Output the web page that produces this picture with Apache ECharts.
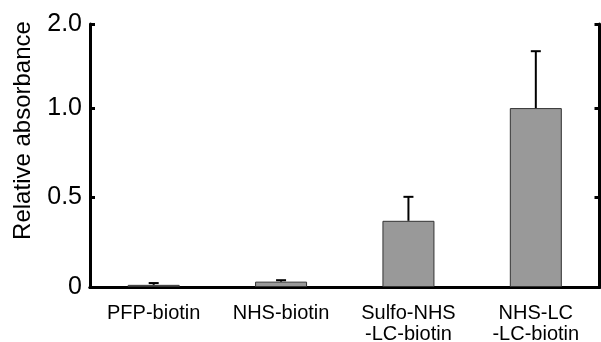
<!DOCTYPE html>
<html><head><meta charset="utf-8">
<script src="https://cdn.jsdelivr.net/npm/echarts@6/dist/echarts.min.js"></script>
<style>html,body{margin:0;padding:0;background:#fff}#c{width:601px;height:342px}</style>
</head><body><div id="c"></div>
<script>
const categories = ['PFP-biotin', 'NHS-biotin', 'Sulfo-NHS\n-LC-biotin', 'NHS-LC\n-LC-biotin'];
const values = [0.012, 0.03, 0.37, 1.0];
const errors = [0.01, 0.008, 0.134, 0.318];
const tickLabels = ['0', '0.5', '1.0', '2.0'];
const yTitle = 'Relative absorbance';

const FONT = '"Liberation Sans", Arial, sans-serif';
const fmt = v => tickLabels[Math.round(v / 0.5)] ?? '';
const chart = echarts.init(document.getElementById('c'), null, {renderer: 'canvas'});
const yCommon = {
  type: 'value', min: 0, max: 1.47, interval: 0.5,
  splitLine: {show: false},
  axisLine: {show: true, lineStyle: {color: '#000', width: 3}},
  axisTick: {show: true, inside: true, length: 5, lineStyle: {color: '#000', width: 3}}
};
chart.setOption({
  animation: false,
  backgroundColor: '#fff',
  grid: {left: 90, right: 1.5, top: 24, bottom: 55, containLabel: false, outerBoundsMode: 'none'},
  xAxis: [{
    type: 'category', data: categories,
    axisLine: {show: true, lineStyle: {color: '#000', width: 3}},
    axisTick: {show: false},
    axisLabel: {color: '#000', fontFamily: FONT, fontSize: 20, lineHeight: 21, margin: 16}
  }, {
    type: 'category', data: categories, position: 'top',
    axisLine: {show: true, lineStyle: {color: '#000', width: 3}},
    axisTick: {show: false}, axisLabel: {show: false}
  }],
  yAxis: [Object.assign({}, yCommon, {
    position: 'left',
    name: yTitle, nameLocation: 'middle', nameGap: 55,
    nameTextStyle: {color: '#000', fontFamily: FONT, fontSize: 24, padding: [0, 0, 0, 50]},
    axisLabel: {color: '#000', fontFamily: FONT, fontSize: 25, margin: 8, formatter: fmt}
  }), Object.assign({}, yCommon, {
    position: 'right', axisLabel: {show: false}
  })],
  series: [{
    type: 'bar', data: values, barWidth: 52,
    itemStyle: {color: '#999999', borderColor: '#333', borderWidth: 1}
  }, {
    type: 'custom',
    data: values.map((v, i) => [i, v, v + errors[i]]),
    renderItem: function (params, api) {
      const lo = api.coord([api.value(0), api.value(1)]);
      const hi = api.coord([api.value(0), api.value(2)]);
      const hw = 5;
      return {
        type: 'group',
        children: [
          {type: 'line', shape: {x1: lo[0], y1: lo[1], x2: hi[0], y2: hi[1]}, style: {stroke: '#000', lineWidth: 2}},
          {type: 'line', shape: {x1: hi[0] - hw, y1: hi[1], x2: hi[0] + hw, y2: hi[1]}, style: {stroke: '#000', lineWidth: 2}}
        ]
      };
    },
    z: 3
  }]
});
</script></body></html>
